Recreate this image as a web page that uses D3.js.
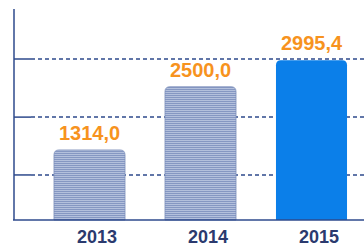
<!DOCTYPE html>
<html><head><meta charset="utf-8">
<script src="https://cdn.jsdelivr.net/npm/d3@7"></script>
<style>html,body{margin:0;padding:0;background:#fff;}svg{display:block;}</style>
</head><body>
<script>
const years = ["2013", "2014", "2015"];
const values = [1314.0, 2500.0, 2995.4];
const valueLabels = ["1314,0", "2500,0", "2995,4"];
const gridValues = [845, 1930, 3020];

const W = 364, H = 247;
const svg = d3.select("body").append("svg").attr("width", W).attr("height", H);
const defs = svg.append("defs");
const pat = defs.append("pattern").attr("id", "stripe").attr("patternUnits", "userSpaceOnUse")
  .attr("width", 4).attr("height", 2);
pat.append("rect").attr("width", 4).attr("height", 2).attr("fill", "#b3c0dc");
pat.append("rect").attr("y", 1).attr("width", 4).attr("height", 1).attr("fill", "#8597c2");

const x = d3.scaleBand().domain(years).range([34, 367]).paddingInner(0.36).paddingOuter(0.18);
const y = d3.scaleLinear().domain([0, 3020]).range([220, 59]);
const axisX = 14;

// gridlines
const g = svg.append("g");
gridValues.forEach(v => {
  g.append("line").attr("x1", axisX).attr("x2", 31).attr("y1", y(v)).attr("y2", y(v))
    .attr("stroke", "#2e4a8c").attr("stroke-width", 1.5);
  g.append("line").attr("x1", 31).attr("x2", W).attr("y1", y(v)).attr("y2", y(v))
    .attr("stroke", "#2e4a8c").attr("stroke-width", 1.5).attr("stroke-dasharray", "4,3");
});

// bars with rounded top corners
const r = 5;
function barPath(x0, w, yt, yb) {
  return `M${x0},${yb}V${yt + r}Q${x0},${yt} ${x0 + r},${yt}H${x0 + w - r}Q${x0 + w},${yt} ${x0 + w},${yt + r}V${yb}Z`;
}
svg.selectAll("path.bar").data(years).join("path").attr("class", "bar")
  .attr("d", (d, i) => barPath(x(d), x.bandwidth(), y(values[i]), y(0)))
  .attr("fill", (d, i) => i === 2 ? "#0b7fe9" : "url(#stripe)")
  .attr("stroke", (d, i) => i === 2 ? "none" : "#7d90bb").attr("stroke-width", 0.8);

// axes lines
svg.append("line").attr("x1", axisX).attr("x2", axisX).attr("y1", 9).attr("y2", y(0))
  .attr("stroke", "#2e4a8c").attr("stroke-width", 1.5);
svg.append("line").attr("x1", axisX - 1).attr("x2", W).attr("y1", y(0)).attr("y2", y(0))
  .attr("stroke", "#2e4a8c").attr("stroke-width", 1.5);

// value labels
svg.selectAll("text.val").data(years).join("text").attr("class", "val")
  .attr("x", d => x(d) + x.bandwidth() / 2)
  .attr("y", (d, i) => y(values[i]) - 10)
  .attr("text-anchor", "middle")
  .attr("font-family", "Liberation Sans, Arial, sans-serif").attr("font-weight", "bold")
  .attr("font-size", 20).attr("fill", "#f7931e")
  .text((d, i) => valueLabels[i]);

// year labels
svg.selectAll("text.yr").data(years).join("text").attr("class", "yr")
  .attr("x", d => x(d) + x.bandwidth() / 2 + 7.5)
  .attr("y", 243)
  .attr("text-anchor", "middle")
  .attr("font-family", "Liberation Sans, Arial, sans-serif").attr("font-weight", "bold")
  .attr("font-size", 18).attr("fill", "#2b3a6e")
  .text(d => d);
</script>
</body></html>
